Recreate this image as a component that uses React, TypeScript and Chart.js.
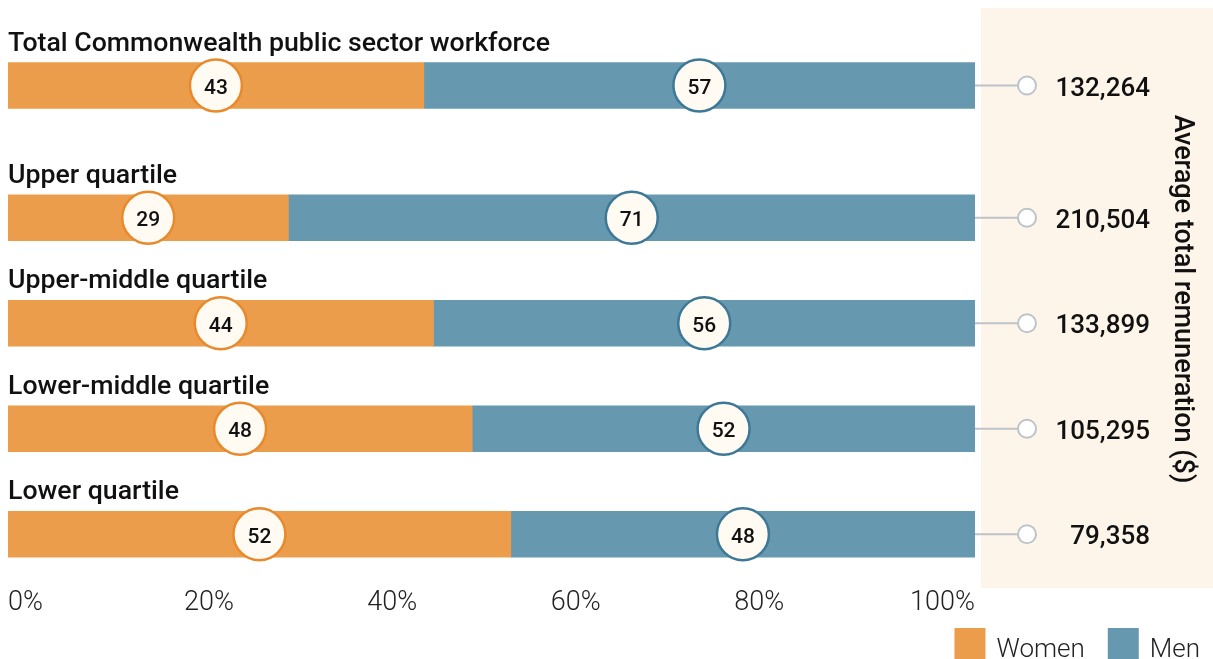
import React, { useEffect, useRef } from "react";
import { Chart, registerables } from "chart.js";

Chart.register(...registerables);

// ---------- data ----------
const totalLabels = ["Total Commonwealth public sector workforce"];
const totalWomen = [43];
const totalMen = [57];
const totalPay = [132264];

const quartileLabels = [
  "Upper quartile",
  "Upper-middle quartile",
  "Lower-middle quartile",
  "Lower quartile",
];
const quartileWomen = [29, 44, 48, 52];
const quartileMen = [71, 56, 52, 48];
const quartilePay = [210504, 133899, 105295, 79358];

const xTickValues = [0, 20, 40, 60, 80, 100];
const seriesNames = ["Women", "Men"];
const axisTitle = "Average total remuneration ($)";

// ---------- styles ----------
const WOMEN = "#EC9D4C";
const MEN = "#6699B0";
const WOMEN_RING = "#E8892B";
const MEN_RING = "#3D7896";
const BUBBLE_FILL = "#FFFBF3";
const PANEL = "#FEF5EA";
const CONNECTOR = "#BDC4C9";
const TEXT = "#111111";
const FONT = "Roboto, 'Noto Sans', sans-serif";

const W = 1213;
const H = 659;

function fmt(n: number) {
  return n.toLocaleString("en-US");
}

function rowDecorPlugin(pay: number[]) {
  return {
    id: "rowDecor",
    afterDatasetsDraw(chart: any) {
      const ctx = chart.ctx;
      const area = chart.chartArea;
      const labels = chart.data.labels as string[];
      const m0 = chart.getDatasetMeta(0);
      const m1 = chart.getDatasetMeta(1);
      ctx.save();
      labels.forEach((label, i) => {
        const b0 = m0.data[i] as any;
        const b1 = m1.data[i] as any;
        const y = b0.y;
        const top = y - b0.height / 2;
        // row title
        ctx.fillStyle = TEXT;
        ctx.font = `500 26.7px ${FONT}`;
        ctx.textAlign = "left";
        ctx.textBaseline = "alphabetic";
        ctx.fillText(label, area.left, top - 12);

        // connector to the remuneration panel
        const end = Math.max(b1.x, b1.base);
        const dotX = area.right + 52;
        ctx.strokeStyle = CONNECTOR;
        ctx.lineWidth = 2;
        ctx.beginPath();
        ctx.moveTo(end, y);
        ctx.lineTo(dotX, y);
        ctx.stroke();
        ctx.beginPath();
        ctx.arc(dotX, y, 9, 0, Math.PI * 2);
        ctx.fillStyle = "#FFFFFF";
        ctx.fill();
        ctx.stroke();

        ctx.fillStyle = TEXT;
        ctx.font = `500 26px ${FONT}`;
        ctx.textAlign = "right";
        ctx.fillText(fmt(pay[i]), area.right + 175, y + 10);

        // bubbles
        [m0, m1].forEach((meta: any, d: number) => {
          const el = meta.data[i];
          const cx = (el.x + el.base) / 2;
          ctx.beginPath();
          ctx.arc(cx, y, 26, 0, Math.PI * 2);
          ctx.fillStyle = BUBBLE_FILL;
          ctx.fill();
          ctx.lineWidth = 2.5;
          ctx.strokeStyle = d === 0 ? WOMEN_RING : MEN_RING;
          ctx.stroke();
          ctx.fillStyle = TEXT;
          ctx.font = `500 21px ${FONT}`;
          ctx.textAlign = "center";
          ctx.textBaseline = "alphabetic";
          const v = chart.data.datasets[d].data[i];
          ctx.fillText(String(v), cx, y + 8.5);
        });
      });
      ctx.restore();
    },
  };
}

const panelPlugin = {
  id: "panel",
  beforeDraw(chart: any) {
    const ctx = chart.ctx;
    const area = chart.chartArea;
    ctx.save();
    ctx.fillStyle = PANEL;
    ctx.fillRect(area.right + 6, 8, chart.width - area.right - 6, area.bottom + 1 - 8);
    ctx.restore();
  },
  afterDraw(chart: any) {
    const ctx = chart.ctx;
    const area = chart.chartArea;
    const xs = chart.scales.x;
    ctx.save();
    // x tick labels
    const vals: number[] =
      xs && xs.ticks && xs.ticks.length ? xs.ticks.map((t: any) => t.value) : xTickValues;
    const texts = vals.map((v) => `${v}%`);
    ctx.font = `300 27px ${FONT}`;
    ctx.fillStyle = "#222222";
    ctx.textBaseline = "alphabetic";
    ctx.textAlign = "center";
    const w0 = ctx.measureText(texts[0]).width;
    const wN = ctx.measureText(texts[texts.length - 1]).width;
    const c0 = area.left + w0 / 2;
    const cN = area.right - wN / 2;
    texts.forEach((t, i) => {
      const cx = c0 + ((cN - c0) * i) / (texts.length - 1);
      ctx.fillText(t, cx, area.bottom + 23);
    });

    // legend (right aligned, bottom)
    const colors = [WOMEN, MEN];
    ctx.font = `300 26px ${FONT}`;
    let x = chart.width - 13;
    ctx.textAlign = "left";
    for (let i = seriesNames.length - 1; i >= 0; i--) {
      const tw = ctx.measureText(seriesNames[i]).width;
      const tx = x - tw;
      const bx = tx - 11 - 31;
      ctx.fillStyle = colors[i];
      ctx.fillRect(bx, 628, 31, 32);
      ctx.fillStyle = "#222222";
      ctx.fillText(seriesNames[i], tx, 657);
      x = bx - 23;
    }

    // rotated axis title
    ctx.translate(1182, 299);
    ctx.rotate(Math.PI / 2);
    ctx.font = `500 27px ${FONT}`;
    ctx.fillStyle = TEXT;
    ctx.textAlign = "center";
    ctx.textBaseline = "middle";
    ctx.fillText(axisTitle, 0, 0);
    ctx.restore();
  },
};

function makeConfig(labels: string[], women: number[], men: number[], pad: any, plugins: any[]) {
  return {
    type: "bar" as const,
    data: {
      labels,
      datasets: [
        { label: seriesNames[0], data: women, backgroundColor: WOMEN, borderWidth: 0, barThickness: 46 },
        { label: seriesNames[1], data: men, backgroundColor: MEN, borderWidth: 0, barThickness: 46 },
      ],
    },
    options: {
      indexAxis: "y" as const,
      responsive: false,
      maintainAspectRatio: false,
      animation: false as const,
      layout: { padding: pad },
      scales: {
        x: {
          stacked: true,
          min: 0,
          max: 100,
          display: false,
          ticks: { stepSize: 20 },
          afterBuildTicks: (s: any) => {
            s.ticks = xTickValues.map((v) => ({ value: v }));
          },
        },
        y: { stacked: true, display: false },
      },
      plugins: { legend: { display: false }, tooltip: { enabled: false } },
      events: [],
    },
    plugins,
  };
}

export default function App() {
  const topRef = useRef<HTMLCanvasElement>(null);
  const mainRef = useRef<HTMLCanvasElement>(null);

  useEffect(() => {
    const main = new Chart(
      mainRef.current as HTMLCanvasElement,
      makeConfig(
        quartileLabels,
        quartileWomen,
        quartileMen,
        { left: 8, right: 238, top: 165, bottom: 72 },
        [panelPlugin, rowDecorPlugin(quartilePay)]
      ) as any
    );
    const top = new Chart(
      topRef.current as HTMLCanvasElement,
      makeConfig(
        totalLabels,
        totalWomen,
        totalMen,
        { left: 8, right: 238, top: 41, bottom: 0 },
        [rowDecorPlugin(totalPay)]
      ) as any
    );
    return () => {
      top.destroy();
      main.destroy();
    };
  }, []);

  return (
    <div
      style={{
        position: "fixed",
        left: 0,
        top: 0,
        width: W,
        height: H,
        overflow: "hidden",
        background: "#FFFFFF",
      }}
    >
      <canvas
        ref={mainRef}
        width={W}
        height={H}
        style={{ position: "absolute", left: 0, top: 0, width: W, height: H, display: "block" }}
      />
      <canvas
        ref={topRef}
        width={W}
        height={130}
        style={{ position: "absolute", left: 0, top: 0, width: W, height: 130, display: "block" }}
      />
    </div>
  );
}
